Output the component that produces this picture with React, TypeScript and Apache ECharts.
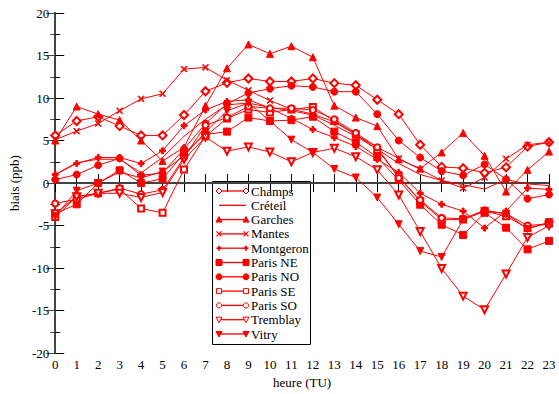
import React, { useEffect, useRef } from "react";
import * as echarts from "echarts";

const hours = [0, 1, 2, 3, 4, 5, 6, 7, 8, 9, 10, 11, 12, 13, 14, 15, 16, 17, 18, 19, 20, 21, 22, 23];

const champs = [5.6, 7.3, 7.8, 6.7, 5.6, 5.6, 8.0, 10.8, 11.8, 12.3, 11.95, 11.95, 12.3, 11.75, 11.5, 9.8, 8.1, 4.5, 1.9, 1.75, 1.2, 1.85, 4.3, 4.8];
const creteil = [1.0, 2.4, 2.8, 2.8, 1.2, 3.0, 5.5, 7.5, 9.2, 9.4, 8.9, 8.5, 8.0, 6.8, 5.5, 4.0, 2.3, 1.0, 0.3, -0.2, -0.7, 0.4, -0.1, -0.3];
const garches = [5.0, 9.0, 8.1, 7.4, 5.0, 2.6, 4.2, 9.1, 13.5, 16.3, 15.2, 16.1, 14.8, 9.1, 7.7, 6.7, 2.8, 1.7, 3.6, 5.9, 3.2, -1.0, 1.55, 3.7];
const mantes = [5.1, 6.1, 7.0, 8.5, 9.9, 10.5, 13.4, 13.6, 12.1, 10.9, 9.7, 8.7, 8.1, 7.2, 5.7, 4.2, 2.9, 1.6, 0.3, -0.6, 0.65, 2.85, 4.5, 4.8];
const montgeron = [1.0, 2.3, 3.0, 3.0, 2.3, 3.8, 6.75, 8.6, 9.6, 9.8, 8.8, 7.6, 6.3, 5.35, 4.3, 2.8, 1.25, -1.2, -2.5, -3.3, -5.3, -3.3, -0.6, -0.75];
const parisNE = [-3.6, -2.5, 0.0, 1.5, 0.0, 0.5, 3.5, 5.7, 6.05, 7.7, 7.3, 7.4, 7.8, 6.05, 4.8, 3.05, 0.35, -2.55, -4.9, -6.1, -3.5, -5.25, -7.8, -6.8];
const parisNO = [0.4, 1.0, 2.1, 2.9, 0.9, 1.2, 4.0, 7.0, 9.3, 10.6, 11.1, 11.45, 11.3, 10.75, 10.75, 8.1, 5.0, 3.0, 1.4, 0.9, 2.2, 0.45, -1.85, -1.35];
const parisSE = [-4.0, -1.6, -1.2, -0.7, -3.0, -3.5, 1.6, 5.5, 7.6, 8.65, 8.3, 8.65, 8.95, 7.3, 5.75, 3.9, 0.8, -2.15, -4.3, -4.3, -3.3, -3.9, -5.3, -4.75];
const parisSO = [-2.4, -1.9, -1.2, -0.6, -1.3, -0.8, 3.0, 6.8, 7.7, 9.0, 8.8, 8.8, 8.6, 7.5, 5.9, 4.2, 0.6, -2.0, -4.1, -4.2, -3.2, -3.6, -5.0, -4.8];
const tremblay = [-3.6, -1.6, -1.2, -1.2, -1.7, -1.1, 2.8, 5.4, 3.75, 4.25, 3.65, 2.5, 3.6, 4.1, 3.1, 1.55, -1.4, -5.7, -10.05, -13.3, -14.9, -10.7, -6.4, -5.0];
const vitry = [-3.9, -0.9, 0.0, 1.3, 0.6, 1.35, 3.2, 6.0, 8.5, 9.4, 7.3, 5.1, 3.6, 1.65, 0.65, -1.7, -4.85, -8.0, -8.7, -4.3, -3.3, -3.6, -5.4, -4.6];

const X_PATH = "path://M0,1L1,0L5,4L9,0L10,1L6,5L10,9L9,10L5,6L1,10L0,9L4,5Z";
const PLUS_PATH = "path://M3.5,0H6.5V3.5H10V6.5H6.5V10H3.5V6.5H0V3.5H3.5Z";

const seriesDefs = [
  { name: "Champs", data: champs, symbol: "emptyDiamond", size: 8, rotate: 0, kind: "diamondO" },
  { name: "Créteil", data: creteil, symbol: "none", size: 0, rotate: 0, kind: "none" },
  { name: "Garches", data: garches, symbol: "triangle", size: 7, rotate: 0, kind: "triUp" },
  { name: "Mantes", data: mantes, symbol: X_PATH, size: 6, rotate: 0, kind: "x" },
  { name: "Montgeron", data: montgeron, symbol: PLUS_PATH, size: 6, rotate: 0, kind: "plus" },
  { name: "Paris NE", data: parisNE, symbol: "rect", size: 7, rotate: 0, kind: "rect" },
  { name: "Paris NO", data: parisNO, symbol: "circle", size: 7, rotate: 0, kind: "circle" },
  { name: "Paris SE", data: parisSE, symbol: "emptyRect", size: 6, rotate: 0, kind: "rectO" },
  { name: "Paris SO", data: parisSO, symbol: "emptyCircle", size: 6, rotate: 0, kind: "circleO" },
  { name: "Tremblay", data: tremblay, symbol: "emptyTriangle", size: 7, rotate: 180, kind: "triDownO" },
  { name: "Vitry", data: vitry, symbol: "triangle", size: 7, rotate: 180, kind: "triDown" },
];

const FONT = "serif";
const RED = "#ff0000";

function marker(kind: string, cx: number, cy: number): any[] {
  const filled = { fill: RED, stroke: RED, lineWidth: 1 };
  const open = { fill: "#fff", stroke: RED, lineWidth: 1 };
  switch (kind) {
    case "diamondO":
      return [{ type: "polygon", shape: { points: [[cx - 3, cy], [cx, cy - 3], [cx + 3, cy], [cx, cy + 3]] }, style: open }];
    case "triUp":
      return [{ type: "polygon", shape: { points: [[cx - 3, cy + 2.5], [cx + 3, cy + 2.5], [cx, cy - 3]] }, style: filled }];
    case "triDown":
      return [{ type: "polygon", shape: { points: [[cx - 3, cy - 2.5], [cx + 3, cy - 2.5], [cx, cy + 3]] }, style: filled }];
    case "triDownO":
      return [{ type: "polygon", shape: { points: [[cx - 3, cy - 2.5], [cx + 3, cy - 2.5], [cx, cy + 3]] }, style: open }];
    case "x":
      return [
        { type: "line", shape: { x1: cx - 2.5, y1: cy - 2.5, x2: cx + 2.5, y2: cy + 2.5 }, style: { stroke: RED, lineWidth: 1.2 } },
        { type: "line", shape: { x1: cx - 2.5, y1: cy + 2.5, x2: cx + 2.5, y2: cy - 2.5 }, style: { stroke: RED, lineWidth: 1.2 } },
      ];
    case "plus":
      return [
        { type: "line", shape: { x1: cx - 2.5, y1: cy, x2: cx + 2.5, y2: cy }, style: { stroke: RED, lineWidth: 1.8 } },
        { type: "line", shape: { x1: cx, y1: cy - 2.5, x2: cx, y2: cy + 2.5 }, style: { stroke: RED, lineWidth: 1.8 } },
      ];
    case "rect":
      return [{ type: "rect", shape: { x: cx - 3, y: cy - 3, width: 6, height: 6 }, style: filled }];
    case "rectO":
      return [{ type: "rect", shape: { x: cx - 2.5, y: cy - 2.5, width: 5, height: 5 }, style: open }];
    case "circle":
      return [{ type: "circle", shape: { cx, cy, r: 3 }, style: filled }];
    case "circleO":
      return [{ type: "circle", shape: { cx, cy, r: 2.6 }, style: open }];
    default:
      return [];
  }
}

export default function App() {
  const ref = useRef<HTMLDivElement>(null);
  useEffect(() => {
    if (!ref.current) return;
    const chart = echarts.init(ref.current, null, { renderer: "svg" });
    const series: any[] = [
      {
        name: "zero",
        type: "line",
        data: [[hours[0], 0], [hours[hours.length - 1], 0]],
        symbol: "none",
        lineStyle: { color: "#555", width: 1.5 },
        z: 1,
        silent: true,
      },
      ...seriesDefs.map((s) => ({
        name: s.name,
        type: "line",
        data: hours.map((h, i) => [h, s.data[i]]),
        symbol: s.symbol,
        symbolSize: s.size,
        symbolRotate: s.rotate,
        showSymbol: s.symbol !== "none",
        lineStyle: { color: RED, width: 1 },
        itemStyle: { color: RED, borderColor: RED, borderWidth: 1 },
        z: 3,
      })),
    ];

    const legendChildren: any[] = [
      {
        type: "rect",
        shape: { x: 212.5, y: 181.5, width: 98, height: 163 },
        style: { fill: "#fff", stroke: "#000", lineWidth: 1 },
      },
    ];
    seriesDefs.forEach((s, i) => {
      const cy = 191 + i * 14.3;
      legendChildren.push({
        type: "line",
        shape: { x1: 219, y1: cy, x2: 246, y2: cy },
        style: { stroke: RED, lineWidth: 1.3 },
      });
      legendChildren.push(...marker(s.kind, 219, cy));
      legendChildren.push(...marker(s.kind, 246, cy));
      legendChildren.push({
        type: "text",
        x: 251,
        y: cy,
        style: { text: s.name, fontFamily: FONT, fontSize: 13, fill: "#000", verticalAlign: "middle" },
      });
    });

    chart.setOption({
      animation: false,
      textStyle: { fontFamily: FONT },
      grid: { left: 54, right: 10, top: 13, bottom: 37 },
      graphic: [{ type: "group", z: 100, children: legendChildren }],
      xAxis: [
        {
          type: "value",
          min: 0,
          max: 23,
          interval: 1,
          position: "bottom",
          name: "heure (TU)",
          nameLocation: "middle",
          nameGap: 19,
          nameTextStyle: { fontFamily: FONT, fontSize: 13, color: "#000" },
          axisLine: { lineStyle: { color: "#000", width: 1.5 } },
          axisTick: { inside: true, length: 9, lineStyle: { color: "#000", width: 1 } },
          axisLabel: { fontFamily: FONT, fontSize: 13, color: "#000", margin: 5 },
          splitLine: { show: false },
        },
        {
          type: "value",
          min: 0,
          max: 23,
          interval: 1,
          position: "top",
          axisLine: { lineStyle: { color: "#000", width: 1.5 } },
          axisTick: { inside: true, length: 9, lineStyle: { color: "#000", width: 1 } },
          axisLabel: { show: false },
          splitLine: { show: false },
        },
      ],
      yAxis: [
        {
          type: "value",
          min: -20,
          max: 20,
          interval: 5,
          position: "left",
          name: "biais (ppb)",
          nameLocation: "middle",
          nameGap: 25,
          nameTextStyle: { fontFamily: FONT, fontSize: 13, color: "#000" },
          axisLine: { lineStyle: { color: "#000", width: 1.5 } },
          axisTick: { inside: true, length: 9, lineStyle: { color: "#000", width: 1 } },
          minorTick: { show: true, splitNumber: 2, length: 5, lineStyle: { color: "#000", width: 1 } },
          axisLabel: { fontFamily: FONT, fontSize: 13, color: "#000", margin: 6 },
          splitLine: { show: false },
          minorSplitLine: { show: false },
        },
        {
          type: "value",
          min: -20,
          max: 20,
          interval: 5,
          position: "right",
          axisLine: { lineStyle: { color: "#444", width: 2 } },
          axisTick: { inside: true, length: 9, lineStyle: { color: "#444", width: 1 } },
          minorTick: { show: true, splitNumber: 2, length: 5, lineStyle: { color: "#444", width: 1 } },
          axisLabel: { show: false },
          splitLine: { show: false },
        },
      ],
      series,
    });
    return () => chart.dispose();
  }, []);
  return (
    <div
      ref={ref}
      style={{ position: "fixed", left: 0, top: 0, width: 559, height: 394, background: "#fff" }}
    />
  );
}
